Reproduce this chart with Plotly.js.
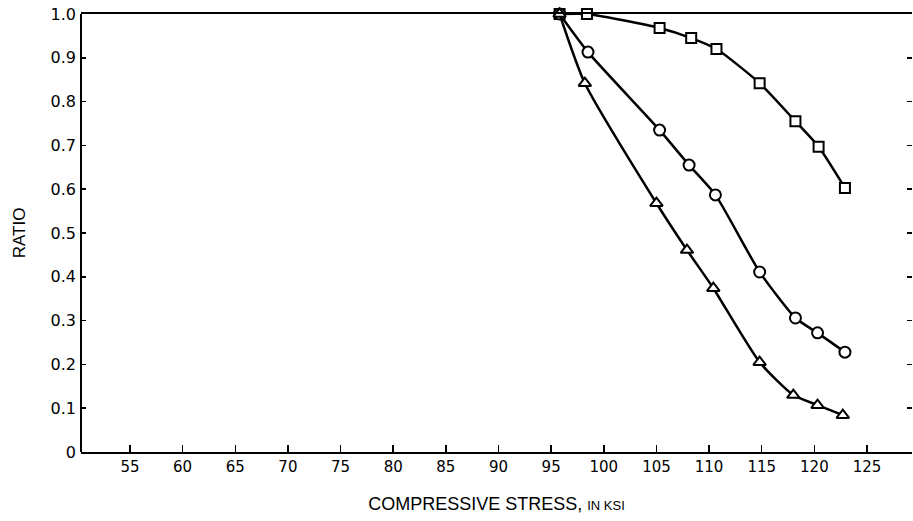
<!DOCTYPE html>
<html>
<head>
<meta charset="utf-8">
<script src="https://cdn.plot.ly/plotly-3.0.1.min.js"></script>
<style>html,body{margin:0;padding:0;background:#fff;}#chart{width:913px;height:521px;}</style>
</head>
<body>
<div id="chart"></div>
<script>
// Square-marker series
const sqX = [95.8, 98.4, 105.3, 108.3, 110.7, 114.8, 118.2, 120.4, 122.9];
const sqY = [1.0, 1.0, 0.968, 0.945, 0.92, 0.842, 0.755, 0.697, 0.603];
// Circle-marker series
const ciX = [95.8, 98.5, 105.3, 108.1, 110.6, 114.8, 118.2, 120.3, 122.9];
const ciY = [1.0, 0.913, 0.735, 0.655, 0.587, 0.411, 0.306, 0.272, 0.228];
// Triangle-marker series
const trX = [95.8, 98.2, 105.0, 107.9, 110.4, 114.8, 118.0, 120.3, 122.7];
const trY = [1.0, 0.842, 0.568, 0.461, 0.374, 0.205, 0.130, 0.107, 0.084];
// Axis ticks
const xTicks = [55, 60, 65, 70, 75, 80, 85, 90, 95, 100, 105, 110, 115, 120, 125];
const yTicks = [0, 0.1, 0.2, 0.3, 0.4, 0.5, 0.6, 0.7, 0.8, 0.9, 1.0];
const yTickText = ["0", "0.1", "0.2", "0.3", "0.4", "0.5", "0.6", "0.7", "0.8", "0.9", "1.0"];

function series(x, y, symbol, size) {
  return {
    x: x, y: y, type: 'scatter', mode: 'lines+markers',
    line: {color: '#000', width: 2.5, shape: 'spline', smoothing: 0.6},
    marker: {symbol: symbol, size: size, color: '#fff', line: {color: '#000', width: 2}},
    cliponaxis: false, showlegend: false, hoverinfo: 'skip'
  };
}

const data = [
  series(sqX, sqY, 'square', 10),
  series(ciX, ciY, 'circle', 11),
  series(trX, trY, 'triangle-up', 11)
];

const tickFamily = 'DejaVu Sans, Arial, sans-serif';
const titleFamily = 'Liberation Sans, Arial, sans-serif';

const layout = {
  width: 913, height: 521,
  margin: {l: 81, r: 1, t: 14, b: 69, pad: 0},
  paper_bgcolor: '#fff', plot_bgcolor: '#fff',
  font: {family: tickFamily, color: '#000', size: 15},
  showlegend: false,
  xaxis: {
    range: [50.35, 129.27],
    tickvals: xTicks,
    ticks: 'inside', ticklen: 7, tickwidth: 1.5, tickcolor: '#000',
    showline: true, linecolor: '#000', linewidth: 2, mirror: true,
    showgrid: false, zeroline: false,
    tickfont: {family: tickFamily, size: 15, color: '#000'},
    title: {text: 'COMPRESSIVE STRESS, <span style="font-size:13px">IN KSI</span>', standoff: 22,
            font: {family: titleFamily, size: 18, color: '#000'}}
  },
  yaxis: {
    range: [0, 1],
    tickvals: yTicks, ticktext: yTickText,
    ticks: 'inside', ticklen: 5, tickwidth: 1.5, tickcolor: '#000',
    showline: false, mirror: 'ticks',
    showgrid: false, zeroline: false,
    ticklabelstandoff: 4,
    tickfont: {family: tickFamily, size: 16, color: '#000'},
    title: {text: 'RATIO', standoff: 20, font: {family: titleFamily, size: 17, color: '#000'}}
  },
  shapes: [
    {type: 'line', xref: 'paper', yref: 'paper', x0: 0, x1: 0, y0: 0, y1: 1,
     line: {color: '#000', width: 2}}
  ]
};

Plotly.newPlot('chart', data, layout, {displayModeBar: false, staticPlot: true});
</script>
</body>
</html>
